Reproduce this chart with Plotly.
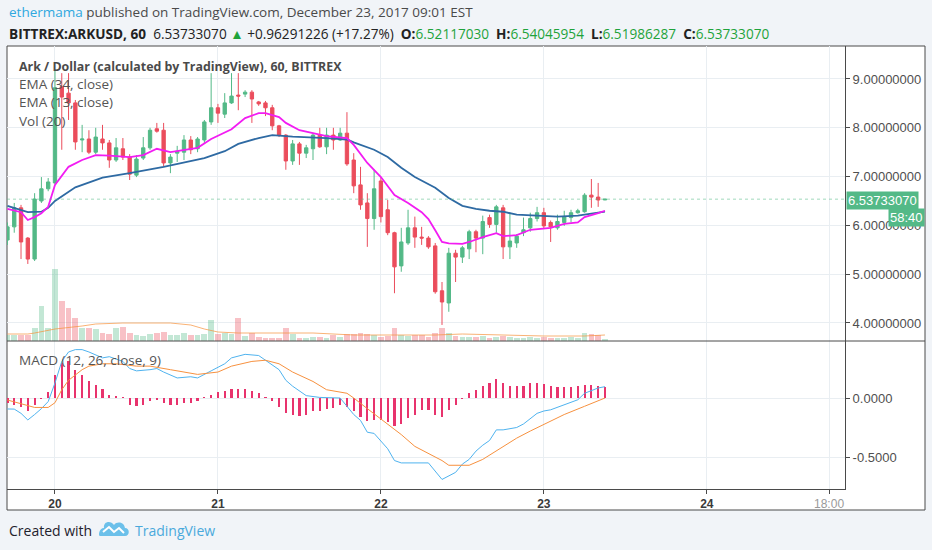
import pandas as pd
import plotly.graph_objects as go

W, H = 932, 550

# %% hourly candles, Dec 19 17:00 -> Dec 23 09:00 (BITTREX ARK/USD, 60)
opens = [5.70, 5.97, 6.36, 5.74, 5.31, 6.50, 6.75, 6.87, 8.84, 8.71,
         8.51, 7.75, 7.77, 7.50, 7.77, 7.69, 7.34, 7.57, 7.40, 7.03,
         7.38, 7.59, 7.98, 7.95, 7.28, 7.48, 7.50, 7.75, 7.57, 7.75,
         8.12, 8.41, 8.28, 8.51, 8.67, 8.69, 8.73, 8.53, 8.51, 8.41,
         8.04, 7.85, 7.32, 7.67, 7.48, 7.57, 7.85, 7.61, 7.85, 7.75,
         7.89, 7.34, 6.83, 6.46, 6.14, 6.91, 6.32, 5.85, 5.17, 5.64,
         5.95, 5.76, 5.74, 5.58, 4.66, 4.41, 5.43, 5.35, 5.52, 5.87,
         5.74, 6.16, 6.02, 6.36, 5.56, 5.64, 5.85, 5.95, 6.14, 6.26,
         6.06, 5.95, 6.06, 6.16, 6.26, 6.28, 6.62, 6.58, 6.5212]
highs = [6.06, 6.46, 6.42, 5.76, 6.66, 6.99, 6.97, 9.18, 9.12, 9.12,
         8.57, 8.06, 7.95, 8.00, 8.06, 7.75, 7.79, 7.79, 7.46, 7.44,
         7.81, 8.00, 8.10, 8.10, 7.46, 7.63, 7.85, 7.83, 7.81, 8.16,
         9.12, 8.49, 8.71, 9.12, 9.12, 8.77, 8.77, 8.55, 8.55, 8.47,
         8.06, 7.87, 7.75, 7.71, 7.65, 7.89, 8.00, 8.00, 8.00, 8.00,
         8.32, 7.48, 7.20, 6.66, 7.14, 6.99, 6.52, 5.87, 5.95, 6.32,
         6.18, 5.97, 5.78, 5.64, 4.84, 5.54, 5.50, 5.58, 5.91, 5.91,
         6.20, 6.22, 6.42, 6.42, 6.26, 5.82, 6.16, 6.26, 6.38, 6.36,
         6.10, 6.22, 6.30, 6.32, 6.34, 6.66, 6.95, 6.87, 6.5405]
lows = [5.60, 5.85, 5.31, 5.21, 5.27, 6.46, 6.70, 6.85, 7.55, 8.16,
        7.55, 7.50, 7.46, 7.46, 7.55, 7.18, 7.30, 7.34, 6.93, 6.99,
        7.34, 7.55, 7.90, 7.20, 7.07, 7.30, 7.34, 7.46, 7.50, 7.69,
        8.06, 8.10, 8.20, 8.49, 8.36, 8.63, 8.10, 8.45, 8.24, 7.95,
        7.81, 7.14, 7.24, 7.24, 7.38, 7.34, 7.59, 7.46, 7.55, 7.73,
        7.22, 6.66, 6.32, 5.56, 5.91, 6.06, 5.80, 4.61, 5.05, 5.60,
        5.54, 5.60, 5.52, 4.60, 3.96, 4.23, 4.84, 5.23, 5.31, 5.45,
        5.41, 5.95, 5.85, 5.31, 5.31, 5.54, 5.78, 5.87, 6.08, 5.93,
        5.66, 5.91, 5.99, 6.06, 6.24, 6.26, 6.36, 6.38, 6.5199]
closes = [5.97, 6.36, 5.66, 5.31, 6.54, 6.75, 6.89, 8.82, 8.63, 8.51,
          7.71, 7.77, 7.50, 7.81, 7.69, 7.34, 7.59, 7.40, 7.05, 7.36,
          7.59, 7.95, 7.93, 7.28, 7.40, 7.52, 7.75, 7.55, 7.77, 8.12,
          8.41, 8.30, 8.51, 8.65, 8.65, 8.73, 8.59, 8.49, 8.41, 8.04,
          7.85, 7.32, 7.67, 7.48, 7.59, 7.85, 7.61, 7.85, 7.75, 7.89,
          7.26, 6.81, 6.42, 6.14, 6.75, 6.18, 5.85, 5.15, 5.66, 5.95,
          5.76, 5.74, 5.56, 4.64, 4.43, 5.43, 5.35, 5.54, 5.87, 5.74,
          6.08, 6.02, 6.38, 5.56, 5.68, 5.78, 5.91, 6.14, 6.26, 5.99,
          5.97, 6.08, 6.18, 6.26, 6.30, 6.62, 6.58, 6.52, 6.5373]
volumes = [6, 6, 6, 6, 13, 35, 13, 72, 40, 33,
           23, 13, 13, 12, 8, 7, 13, 14, 8, 6,
           5, 7, 8, 9, 6, 6, 8, 6, 6, 7,
           21, 7, 8, 7, 23, 5, 8, 4, 3, 3,
           3, 13, 7, 3, 3, 4, 4, 3, 6, 4,
           7, 7, 8, 7, 6, 4, 5, 13, 6, 5,
           6, 6, 4, 8, 13, 8, 5, 4, 4, 4,
           5, 3, 4, 5, 4, 3, 3, 4, 3, 4,
           3, 3, 3, 4, 3, 8, 7, 6, 2]
macd_hist = [-0.042, -0.056, -0.079, -0.113, -0.056, -0.005, 0.048, 0.198, 0.297, 0.31,
             0.234, 0.198, 0.141, 0.113, 0.076, 0.023, 0.02, 0.005, -0.056, -0.065,
             -0.056, -0.028, -0.014, -0.042, -0.056, -0.056, -0.042, -0.042, -0.028, 0.003,
             0.028, 0.051, 0.056, 0.079, 0.079, 0.076, 0.062, 0.042, 0.006, -0.028,
             -0.076, -0.127, -0.141, -0.15, -0.141, -0.113, -0.113, -0.093, -0.085, -0.056,
             -0.076, -0.113, -0.161, -0.198, -0.184, -0.184, -0.206, -0.234, -0.218, -0.169,
             -0.141, -0.105, -0.099, -0.141, -0.164, -0.099, -0.056, -0.008, 0.042, 0.071,
             0.099, 0.127, 0.161, 0.127, 0.105, 0.105, 0.099, 0.127, 0.127, 0.119,
             0.099, 0.093, 0.093, 0.093, 0.099, 0.113, 0.113, 0.105, 0.093]

# %% indicator lines (hours from Dec 20 00:00)
ema34_h = [-7, -4, -2, -1, 0, 3, 7, 11, 16, 20, 22, 25, 27, 30, 32, 35, 38, 40, 43, 44,
           47, 49, 51, 53, 56, 58, 60, 62, 64, 66, 68, 71, 74, 77, 79, 81]
ema34 = [6.40, 6.27, 6.28, 6.36, 6.50, 6.78, 6.98, 7.07, 7.20, 7.31, 7.38, 7.52, 7.67, 7.79,
         7.85, 7.82, 7.81, 7.79, 7.76, 7.70, 7.55, 7.40, 7.18, 6.99, 6.77, 6.56, 6.40, 6.34,
         6.30, 6.28, 6.22, 6.20, 6.18, 6.20, 6.24, 6.28]
ema13_h = [-7, -5, -4, -3, -2, -1, 0, 2, 4, 6, 8, 10, 11, 13, 15, 17, 19, 21, 23, 26,
           28, 30, 31, 33, 34, 36, 38, 40, 43, 44, 46, 48, 50, 52, 54, 55, 56, 57, 58, 60,
           61, 63, 65, 66, 68, 70, 73, 75, 77, 78, 80, 81]
ema13 = [6.34, 6.27, 6.11, 6.17, 6.25, 6.38, 6.83, 7.20, 7.34, 7.44, 7.43, 7.40, 7.40, 7.44,
         7.57, 7.50, 7.55, 7.59, 7.77, 7.97, 8.20, 8.30, 8.30, 8.22, 8.10, 7.95, 7.89, 7.83,
         7.79, 7.65, 7.28, 6.99, 6.62, 6.46, 6.27, 6.13, 5.90, 5.66, 5.63, 5.62, 5.66, 5.76,
         5.84, 5.78, 5.80, 5.91, 5.95, 6.03, 6.06, 6.17, 6.25, 6.30]
vol_ma_h = [-7, -4, -3, 0, 4, 6, 10, 17, 20, 22, 24, 27, 38, 41, 44, 50, 56, 60, 66, 72, 78, 81]
vol_ma = [7, 7, 8, 12, 15, 17, 18, 18, 16, 12, 9, 8, 8, 7, 6, 6, 6, 7, 6, 5, 5, 6]
macd_h = [-7, -6, -5, -4, -3, -2, -1, 0, 1, 2, 3, 4, 5, 7, 8, 10, 11, 12, 14, 15, 16, 18,
          20, 21, 23, 25, 26, 28, 30, 31, 33, 34, 35, 37, 39, 42, 43, 44, 45, 46, 47, 49,
          50, 51, 55, 56, 57, 59, 60, 61, 62, 63, 64, 65, 66, 68, 69, 71, 72, 73, 75, 77,
          78, 80, 81]
macd = [-0.093, -0.094, -0.13, -0.186, -0.14, -0.09, -0.03, 0.127, 0.31, 0.39, 0.41, 0.41,
        0.39, 0.34, 0.35, 0.31, 0.25, 0.23, 0.24, 0.25, 0.22, 0.17, 0.18, 0.17, 0.23, 0.29,
        0.34, 0.37, 0.36, 0.32, 0.24, 0.15, 0.10, 0.02, 0.005, 0.0, -0.07, -0.14, -0.19,
        -0.29, -0.30, -0.43, -0.53, -0.55, -0.55, -0.62, -0.69, -0.63, -0.56, -0.52, -0.45,
        -0.40, -0.36, -0.27, -0.27, -0.25, -0.22, -0.13, -0.11, -0.10, -0.06, -0.015, 0.04,
        0.085, 0.096]
signal_h = [-7, -5, -3, -1, 0, 1, 2, 4, 5, 7, 9, 12, 14, 17, 19, 21, 24, 26, 29, 31, 33,
            35, 38, 40, 43, 44, 46, 48, 51, 53, 55, 57, 58, 61, 63, 66, 68, 70, 73, 75, 78, 81]
signal = [-0.017, -0.05, -0.08, -0.08, -0.04, 0.07, 0.15, 0.24, 0.27, 0.29, 0.29, 0.27,
          0.27, 0.24, 0.22, 0.20, 0.22, 0.27, 0.31, 0.32, 0.29, 0.22, 0.14, 0.07, 0.04, 0.0,
          -0.09, -0.18, -0.31, -0.41, -0.47, -0.53, -0.57, -0.57, -0.52, -0.41, -0.34, -0.28,
          -0.20, -0.14, -0.07, 0.0]

last_price = 6.53733070
price_ticks = [4, 5, 6, 7, 8, 9]
macd_ticks = [0, -0.5]
day_ticks = ['2017-12-20', '2017-12-21', '2017-12-22', '2017-12-23', '2017-12-24', '2017-12-24 18:00']
day_text = ['<b>20</b>', '<b>21</b>', '<b>22</b>', '<b>23</b>', '<b>24</b>',
            '<span style="color:#9a9a9a">18:00</span>']

UP, DOWN = '#53b987', '#eb4d5c'
GRID = '#e9eef2'
FRAME = '#4a4a4a'


def fx(px):
    return px / W


def fy(py):
    return 1 - py / H


times = pd.date_range('2017-12-19 17:00', periods=len(closes), freq='h')
t0 = pd.Timestamp('2017-12-20 00:00')


def at(hours):
    return [t0 + pd.Timedelta(hours=h) for h in hours]


vol_colors = ['rgba(83,185,135,0.35)' if c >= o else 'rgba(235,77,92,0.35)'
              for o, c in zip(opens, closes)]

fig = go.Figure()
fig.add_trace(go.Bar(x=times, y=volumes, marker_color=vol_colors, marker_line_width=0,
                     width=3600000 * 0.85, xaxis='x', yaxis='y'))
fig.add_trace(go.Scatter(x=at(vol_ma_h), y=vol_ma, mode='lines',
                         line=dict(color='rgba(247,146,58,0.7)', width=1), xaxis='x', yaxis='y'))
fig.add_trace(go.Candlestick(x=times, open=opens, high=highs, low=lows, close=closes,
                             increasing=dict(line=dict(color=UP, width=1), fillcolor=UP),
                             decreasing=dict(line=dict(color=DOWN, width=1), fillcolor=DOWN),
                             whiskerwidth=0, xaxis='x', yaxis='y3'))
fig.add_trace(go.Scatter(x=at(ema34_h), y=ema34, mode='lines', line=dict(color='#2e6aa3', width=1.8),
                         xaxis='x', yaxis='y3'))
fig.add_trace(go.Scatter(x=at(ema13_h), y=ema13, mode='lines', line=dict(color='#f21cf2', width=1.8),
                         xaxis='x', yaxis='y3'))

fig.add_trace(go.Bar(x=times, y=macd_hist, marker_color='#e8336d', marker_line_width=0,
                     width=3600000 * 0.32, xaxis='x2', yaxis='y2'))
fig.add_trace(go.Scatter(x=at(macd_h), y=macd, mode='lines', line=dict(color='#4fb3ef', width=1),
                         xaxis='x2', yaxis='y2'))
fig.add_trace(go.Scatter(x=at(signal_h), y=signal, mode='lines', line=dict(color='#f7913f', width=1),
                         xaxis='x2', yaxis='y2'))

xdom = [fx(7), fx(845)]
xrange = ['2017-12-19 16:56', '2017-12-24 20:21']
tickfont = dict(family='Liberation Sans', size=13, color='#4f4f4f')

fig.update_layout(
    width=W, height=H, margin=dict(l=0, r=0, t=0, b=0),
    paper_bgcolor='#f1f4f8', plot_bgcolor='white',
    showlegend=False, hovermode=False, bargap=0,
    xaxis=dict(domain=xdom, anchor='y', range=xrange, type='date',
               tickvals=day_ticks, showticklabels=False, ticks='',
               showgrid=True, gridcolor=GRID, zeroline=False,
               rangeslider=dict(visible=False)),
    yaxis=dict(domain=[fy(341), fy(46)], anchor='x', range=[0, 295], visible=False),
    yaxis3=dict(overlaying='y', anchor='x', side='right', range=[3.631, 9.676],
                tickvals=price_ticks, ticktext=['%.8f' % v for v in price_ticks],
                tickfont=tickfont, ticks='outside', ticklen=4, tickcolor=FRAME,
                showline=True, linecolor=FRAME, linewidth=1,
                showgrid=True, gridcolor=GRID, zeroline=False),
    xaxis2=dict(domain=xdom, anchor='y2', range=xrange, type='date', matches='x',
                tickvals=day_ticks, ticktext=day_text,
                tickfont=dict(family='Liberation Sans', size=12, color='#3a3a3a'),
                ticks='outside', ticklen=4, tickcolor=FRAME,
                showline=True, linecolor=FRAME, linewidth=1,
                showgrid=True, gridcolor=GRID, zeroline=False),
    yaxis2=dict(domain=[fy(489), fy(341)], anchor='x2', side='right', range=[-0.771, 0.483],
                tickvals=macd_ticks, ticktext=['0.0000', '-0.5000'], tickfont=tickfont,
                ticks='outside', ticklen=4, tickcolor=FRAME,
                showline=True, linecolor=FRAME, linewidth=1,
                showgrid=True, gridcolor=GRID, zeroline=False),
)

shapes = [
    dict(type='rect', xref='paper', yref='paper', x0=fx(7), x1=fx(925), y0=fy(510), y1=fy(46),
         fillcolor='white', line=dict(color=FRAME, width=1), layer='below'),
    dict(type='line', xref='paper', yref='paper', x0=fx(7), x1=fx(925), y0=fy(341), y1=fy(341),
         line=dict(color=FRAME, width=1)),
    dict(type='line', xref='paper', yref='y3', x0=xdom[0], x1=xdom[1], y0=last_price, y1=last_price,
         line=dict(color='rgba(83,185,135,0.55)', width=1, dash='dot')),
    # TradingView logo
    dict(type='path', xref='paper', yref='paper', xsizemode='pixel', ysizemode='pixel',
         xanchor=fx(100), yanchor=fy(530),
         path='M 0,-6 L 25,-6 C 30,-6 30,2 25,2 C 24,8 17,9 14,5 C 11,10 3,9 4,2 C -1,2 -2,-6 0,-6 Z',
         fillcolor='#6cc0ea', line=dict(width=0)),
    dict(type='path', xref='paper', yref='paper', xsizemode='pixel', ysizemode='pixel',
         xanchor=fx(100), yanchor=fy(530),
         path='M 3,-2 L 9,3 L 14,-2 L 19,2 L 24,-3',
         line=dict(color='white', width=2)),
]
fig.update_layout(shapes=shapes)

hdr = dict(family='Open Sans', size=13.5, color='#4a4a4a')
green = '#1fa33b'
annotations = [
    dict(x=fx(7), y=fy(12), text='<span style="color:#2fa8df">ethermama</span> published on '
                               'TradingView.com, December 23, 2017 09:01 EST', font=hdr),
    dict(x=fx(7), y=fy(33),
         text='<b>BITTREX:ARKUSD, 60</b>  6.53733070 <span style="color:%s">▲</span> '
              '+0.96291226 (+17.27%%)  <b>O:</b><span style="color:%s">6.52117030</span>  '
              '<b>H:</b><span style="color:%s">6.54045954</span>  '
              '<b>L:</b><span style="color:%s">6.51986287</span>  '
              '<b>C:</b><span style="color:%s">6.53733070</span>' % ((green,) * 5),
         font=dict(family='Open Sans', size=13.6, color='#222222')),
    dict(x=fx(17), y=fy(66), text='<b>Ark / Dollar (calculated by TradingView), 60, BITTREX</b>',
         font=dict(family='Open Sans', size=12.4, color='#4a4a4a')),
    dict(x=fx(17), y=fy(84), text='EMA (34, close)', font=dict(family='Open Sans', size=13.5, color='#555555')),
    dict(x=fx(17), y=fy(102), text='EMA (13, close)', font=dict(family='Open Sans', size=13.5, color='#555555')),
    dict(x=fx(17), y=fy(121), text='Vol (20)', font=dict(family='Open Sans', size=13.5, color='#555555')),
    dict(x=fx(17), y=fy(360), text='MACD (12, 26, close, 9)',
         font=dict(family='Open Sans', size=13.5, color='#555555')),
    dict(x=fx(846), y=fy(200), text='6.53733070', bgcolor=UP, borderpad=1,
         font=dict(family='Liberation Sans', size=13, color='white')),
    dict(x=fx(925), xanchor='right', y=fy(217), text='58:40', bgcolor=UP, borderpad=1,
         font=dict(family='Liberation Sans', size=13, color='white')),
    dict(x=fx(7), y=fy(530), text='Created with', font=dict(family='Open Sans', size=14, color='#1e222d')),
    dict(x=fx(133), y=fy(530), text='TradingView', font=dict(family='Open Sans', size=14, color='#4aa9dc')),
]
for a in annotations:
    a.setdefault('xanchor', 'left')
    a.update(xref='paper', yref='paper', yanchor='middle', showarrow=False)
fig.update_layout(annotations=annotations)

fig.write_html('out.html', config={'displayModeBar': False},
               post_script="document.body.style.margin='0px';")
